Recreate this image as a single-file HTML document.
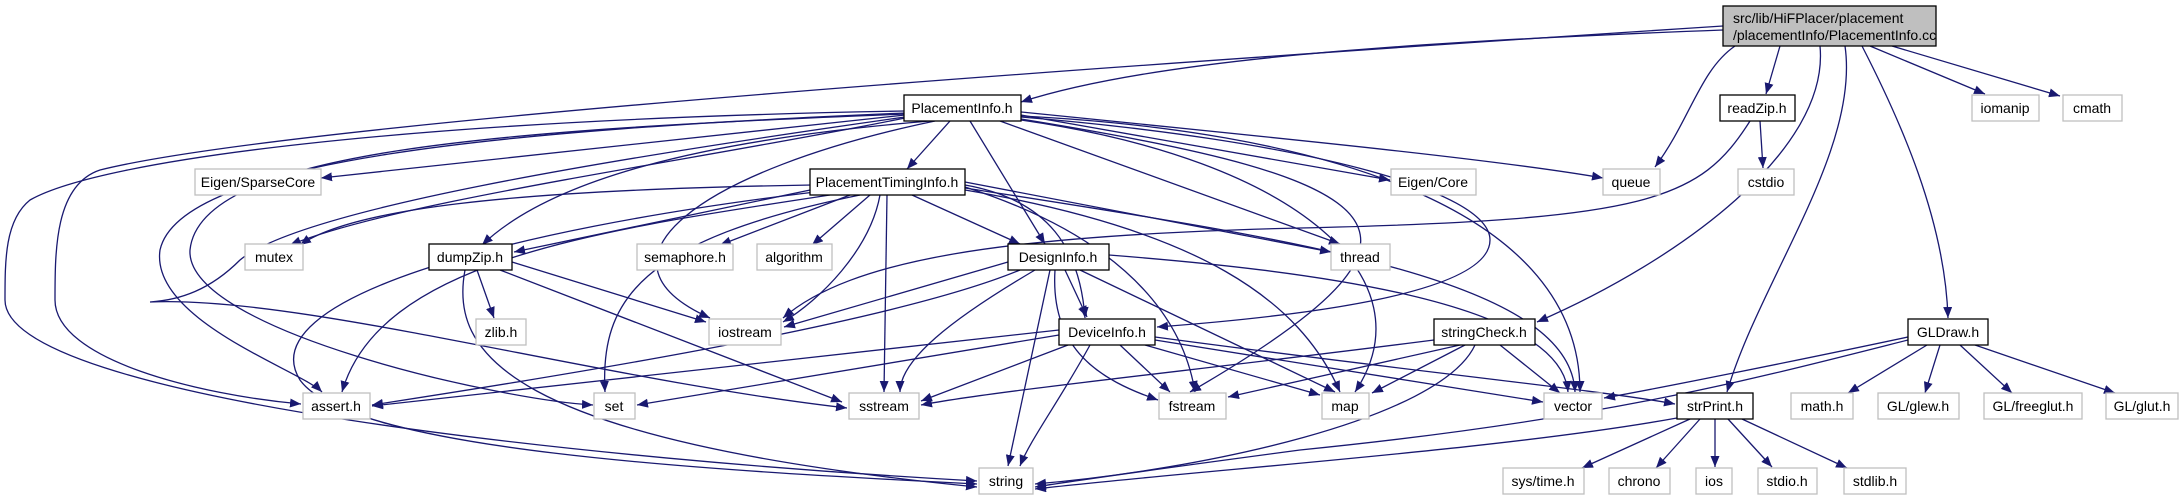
<!DOCTYPE html>
<html><head><meta charset="utf-8"><style>
html,body{margin:0;padding:0;background:#fff;}
svg{display:block;}
text{font-family:"Liberation Sans",Arial,sans-serif;font-size:14px;fill:#000;}
.e{fill:none;stroke:#191970;stroke-width:1.3;marker-end:url(#a);}
.g{fill:#fff;stroke:#bfbfbf;stroke-width:1.3;}
.b{fill:#fff;stroke:#000;stroke-width:1.3;}
</style></head><body>
<svg width="2181" height="500" viewBox="0 0 2181 500" xmlns="http://www.w3.org/2000/svg">
<defs><marker id="a" markerUnits="userSpaceOnUse" markerWidth="12" markerHeight="10" refX="11" refY="4.5" orient="auto"><path d="M0,0 L11,4.5 L0,9 z" fill="#191970"/></marker></defs>
<g>
<!-- root edges -->
<path class="e" d="M1723,30 C1400,42 1150,60 1021,102"/>
<path class="e" d="M1723,26 C1200,60 300,120 100,170 C55,185 55,250 55,300 C55,360 200,395 301,404"/>
<path class="e" d="M1735,46 C1700,70 1690,120 1655,167"/>
<path class="e" d="M1780,46 L1766,94"/>
<path class="e" d="M1820,46 C1830,150 1680,260 1537,322"/>
<path class="e" d="M1845,46 C1860,150 1760,280 1727,392"/>
<path class="e" d="M1862,46 C1900,120 1945,220 1948,318"/>
<path class="e" d="M1870,46 L1985,94"/>
<path class="e" d="M1892,46 L2060,96"/>
<!-- PlacementInfo.h -->
<path class="e" d="M905,115 L321,178"/>
<path class="e" d="M950,121 L907,169"/>
<path class="e" d="M970,121 L1045,244"/>
<path class="e" d="M1021,115 L1390,180"/>
<path class="e" d="M1021,112 C1300,140 1500,160 1603,178"/>
<path class="e" d="M1000,121 L1340,244"/>
<path class="e" d="M1021,117 C1300,140 1490,190 1490,240 C1490,300 1250,320 1157,327"/>
<path class="e" d="M1021,119 C1400,180 1470,230 1190,392"/>
<path class="e" d="M1021,120 C1300,160 1430,280 1355,392"/>
<path class="e" d="M1021,116 C1300,130 1580,200 1580,392"/>
<path class="e" d="M905,118 C700,160 400,200 290,245"/>
<path class="e" d="M930,121 C700,140 550,180 482,245"/>
<path class="e" d="M905,113 C500,130 180,160 160,250 C150,320 300,370 322,392"/>
<path class="e" d="M905,114 C500,130 200,150 190,250 C185,330 500,400 593,405"/>
<path class="e" d="M905,117 C600,160 300,210 240,260 C210,290 180,300 150,302 C300,295 600,380 847,408"/>
<path class="e" d="M905,111 C400,120 100,160 30,200 C5,220 5,260 5,300 C5,400 600,460 977,481"/>
<path class="e" d="M935,121 C700,170 580,260 710,318"/>
<!-- PlacementTimingInfo.h -->
<path class="e" d="M812,185 C500,190 350,210 300,245"/>
<path class="e" d="M815,189 L514,252"/>
<path class="e" d="M850,195 L720,245"/>
<path class="e" d="M870,195 L812,245"/>
<path class="e" d="M912,195 L1020,244"/>
<path class="e" d="M965,185 C1050,200 1080,250 1085,318"/>
<path class="e" d="M965,182 L1331,252"/>
<path class="e" d="M880,195 C870,250 820,300 783,322"/>
<path class="e" d="M830,195 C600,230 380,260 342,392"/>
<path class="e" d="M815,192 C500,230 250,300 300,380 C350,450 700,470 977,484"/>
<path class="e" d="M860,195 C640,240 600,300 605,392"/>
<path class="e" d="M887,195 L884,392"/>
<path class="e" d="M965,190 C1200,230 1300,300 1340,392"/>
<path class="e" d="M965,187 C1100,230 1180,300 1195,392"/>
<path class="e" d="M965,188 C1300,240 1570,280 1575,392"/>
<!-- dumpZip.h -->
<path class="e" d="M477,270 L494,318"/>
<path class="e" d="M512,262 L706,322"/>
<path class="e" d="M500,270 L842,402"/>
<path class="e" d="M465,270 C450,350 500,440 977,487"/>
<!-- DesignInfo.h -->
<path class="e" d="M1008,262 L784,327"/>
<path class="e" d="M1065,270 L1087,317"/>
<path class="e" d="M1020,270 C900,320 600,370 372,405"/>
<path class="e" d="M1035,270 C950,320 900,360 900,392"/>
<path class="e" d="M1050,270 L1008,466"/>
<path class="e" d="M1080,270 L1335,392"/>
<path class="e" d="M1055,270 C1050,350 1100,380 1158,400"/>
<path class="e" d="M1109,255 C1300,270 1560,300 1568,392"/>
<!-- DeviceInfo.h -->
<path class="e" d="M1059,330 L372,406"/>
<path class="e" d="M1059,335 L637,405"/>
<path class="e" d="M1068,345 L921,401"/>
<path class="e" d="M1090,345 C1060,400 1030,440 1020,466"/>
<path class="e" d="M1120,345 L1170,392"/>
<path class="e" d="M1145,345 L1320,395"/>
<path class="e" d="M1155,340 L1543,402"/>
<path class="e" d="M1155,337 C1400,370 1600,390 1675,404"/>
<!-- readZip.h -->
<path class="e" d="M1760,121 L1763,168"/>
<path class="e" d="M1750,121 C1700,200 1650,220 1300,228 C1000,235 850,260 783,318"/>
<!-- stringCheck.h -->
<path class="e" d="M1434,340 C1200,370 1000,390 921,405"/>
<path class="e" d="M1460,345 L1228,397"/>
<path class="e" d="M1465,345 L1372,393"/>
<path class="e" d="M1500,345 L1560,393"/>
<path class="e" d="M1475,345 C1440,420 1200,470 1035,484"/>
<!-- GLDraw.h -->
<path class="e" d="M1908,337 C1800,360 1650,390 1604,398"/>
<path class="e" d="M1908,340 C1750,380 1600,420 1300,450 C1150,470 1080,480 1035,487"/>
<path class="e" d="M1927,345 L1848,393"/>
<path class="e" d="M1940,345 L1925,393"/>
<path class="e" d="M1960,345 L2012,393"/>
<path class="e" d="M1975,345 L2115,393"/>
<!-- strPrint.h -->
<path class="e" d="M1677,418 C1500,450 1200,470 1035,489"/>
<path class="e" d="M1690,419 L1582,468"/>
<path class="e" d="M1700,419 L1656,468"/>
<path class="e" d="M1715,419 L1715,467"/>
<path class="e" d="M1728,419 L1772,467"/>
<path class="e" d="M1742,419 L1847,468"/>
</g>
<g>
<rect x="1723" y="6" width="213" height="40" fill="#bfbfbf" stroke="#000" stroke-width="1.3"/>
<text x="1733" y="23">src/lib/HiFPlacer/placement</text>
<text x="1733" y="40">/placementInfo/PlacementInfo.cc</text>
</g>
<g text-anchor="middle">
<rect class="b" x="904" y="95" width="117" height="26"/><text x="962" y="113">PlacementInfo.h</text>
<rect class="b" x="1720" y="95" width="75" height="26"/><text x="1757" y="113">readZip.h</text>
<rect class="g" x="1972" y="95" width="67" height="26"/><text x="2005" y="113">iomanip</text>
<rect class="g" x="2063" y="95" width="59" height="26"/><text x="2092" y="113">cmath</text>
<rect class="g" x="195" y="169" width="126" height="26"/><text x="258" y="187">Eigen/SparseCore</text>
<rect class="b" x="810" y="169" width="155" height="26"/><text x="887" y="187">PlacementTimingInfo.h</text>
<rect class="g" x="1391" y="169" width="85" height="26"/><text x="1433" y="187">Eigen/Core</text>
<rect class="g" x="1603" y="169" width="57" height="26"/><text x="1631" y="187">queue</text>
<rect class="g" x="1738" y="169" width="56" height="26"/><text x="1766" y="187">cstdio</text>
<rect class="g" x="245" y="244" width="58" height="26"/><text x="274" y="262">mutex</text>
<rect class="b" x="429" y="244" width="83" height="26"/><text x="470" y="262">dumpZip.h</text>
<rect class="g" x="637" y="244" width="96" height="26"/><text x="685" y="262">semaphore.h</text>
<rect class="g" x="757" y="244" width="75" height="26"/><text x="794" y="262">algorithm</text>
<rect class="b" x="1008" y="244" width="101" height="26"/><text x="1058" y="262">DesignInfo.h</text>
<rect class="g" x="1331" y="244" width="59" height="26"/><text x="1360" y="262">thread</text>
<rect class="g" x="476" y="319" width="50" height="26"/><text x="501" y="337">zlib.h</text>
<rect class="g" x="709" y="319" width="72" height="26"/><text x="745" y="337">iostream</text>
<rect class="b" x="1059" y="319" width="96" height="26"/><text x="1107" y="337">DeviceInfo.h</text>
<rect class="b" x="1434" y="319" width="101" height="26"/><text x="1484" y="337">stringCheck.h</text>
<rect class="b" x="1908" y="319" width="80" height="26"/><text x="1948" y="337">GLDraw.h</text>
<rect class="g" x="303" y="393" width="67" height="26"/><text x="336" y="411">assert.h</text>
<rect class="g" x="594" y="393" width="41" height="26"/><text x="614" y="411">set</text>
<rect class="g" x="849" y="393" width="70" height="26"/><text x="884" y="411">sstream</text>
<rect class="g" x="1159" y="393" width="67" height="26"/><text x="1192" y="411">fstream</text>
<rect class="g" x="1322" y="393" width="47" height="26"/><text x="1345" y="411">map</text>
<rect class="g" x="1544" y="393" width="58" height="26"/><text x="1573" y="411">vector</text>
<rect class="b" x="1677" y="393" width="76" height="26"/><text x="1715" y="411">strPrint.h</text>
<rect class="g" x="1791" y="393" width="62" height="26"/><text x="1822" y="411">math.h</text>
<rect class="g" x="1878" y="393" width="81" height="26"/><text x="1918" y="411">GL/glew.h</text>
<rect class="g" x="1984" y="393" width="98" height="26"/><text x="2033" y="411">GL/freeglut.h</text>
<rect class="g" x="2106" y="393" width="72" height="26"/><text x="2142" y="411">GL/glut.h</text>
<rect class="g" x="979" y="468" width="54" height="26"/><text x="1006" y="486">string</text>
<rect class="g" x="1503" y="468" width="81" height="26"/><text x="1543" y="486">sys/time.h</text>
<rect class="g" x="1609" y="468" width="61" height="26"/><text x="1639" y="486">chrono</text>
<rect class="g" x="1696" y="468" width="36" height="26"/><text x="1714" y="486">ios</text>
<rect class="g" x="1758" y="468" width="59" height="26"/><text x="1787" y="486">stdio.h</text>
<rect class="g" x="1844" y="468" width="62" height="26"/><text x="1875" y="486">stdlib.h</text>
</g>
</svg>
</body></html>
